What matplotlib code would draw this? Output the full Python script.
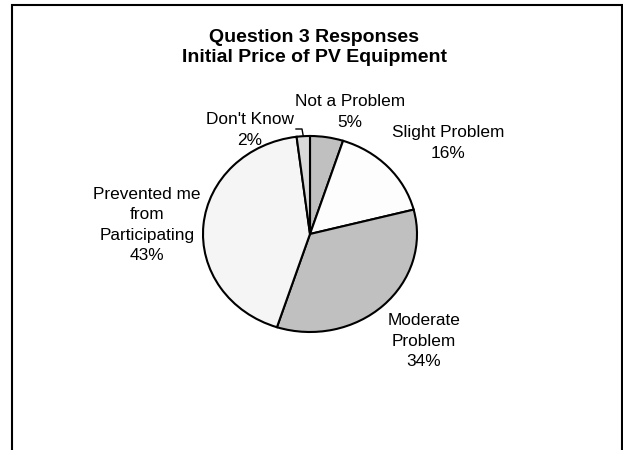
import numpy as np
import matplotlib
matplotlib.use('Agg')
import matplotlib.pyplot as plt
from matplotlib.patches import Rectangle

# data
categories = ['Not a Problem', 'Slight Problem', 'Moderate\nProblem',
              'Prevented me\nfrom\nParticipating', "Don't Know"]
shares = [5, 16, 34, 43, 2]
slice_colors = ['#c0c0c0', '#fdfdfd', '#c0c0c0', '#f5f5f5', '#d9d9d9']

# label anchors in image pixels (x, y from top)
label_px = [(350, 112), (448, 143), (424, 341), (147, 225), (250, 130)]

W, H = 623, 450
plt.rcParams['font.family'] = ['Liberation Sans', 'DejaVu Sans']

fig = plt.figure(figsize=(W / 100, H / 100), dpi=100)


def fx(x):
    return x / W


def fy(y):
    return 1 - y / H


# chart area border (bottom runs off the image)
fig.patches.append(Rectangle((fx(12), fy(470)), fx(621.5) - fx(12), fy(5) - fy(470),
                             transform=fig.transFigure, fill=False,
                             edgecolor='black', linewidth=1.5))

fig.text(fx(314), fy(37), 'Question 3 Responses', ha='center', va='center',
         fontsize=14, fontweight='bold')
fig.text(fx(314), fy(58), 'Initial Price of PV Equipment', ha='center', va='center',
         fontsize=14, fontweight='bold')

# pie is slightly stretched horizontally, like the original
cx, cy, rx, ry = 310, 234, 107, 98
ax = fig.add_axes([fx(cx - rx), fy(cy + ry), 2 * rx / W, 2 * ry / H])
wedges, _ = ax.pie(shares, colors=slice_colors, startangle=90, counterclock=False,
                   wedgeprops=dict(edgecolor='black', linewidth=1.5))
ax.set_aspect('auto')
ax.set_xlim(-1, 1)
ax.set_ylim(-1, 1)
ax.axis('off')

for name, v, (lx, ly) in zip(categories, shares, label_px):
    fig.text(fx(lx), fy(ly), f'{name}\n{v}%', ha='center', va='center',
             fontsize=12.4, linespacing=1.45)

# leader line for the small "Don't Know" slice
w = wedges[4]
mid = np.deg2rad((w.theta1 + w.theta2) / 2)
inv = ax.transData.inverted()
p1 = inv.transform((296, H - 129))
p2 = inv.transform((302, H - 129))
ax.plot([p1[0], p2[0], np.cos(mid)], [p1[1], p2[1], np.sin(mid)],
        color='black', linewidth=1, clip_on=False)

fig.savefig('out.png', dpi=100)
